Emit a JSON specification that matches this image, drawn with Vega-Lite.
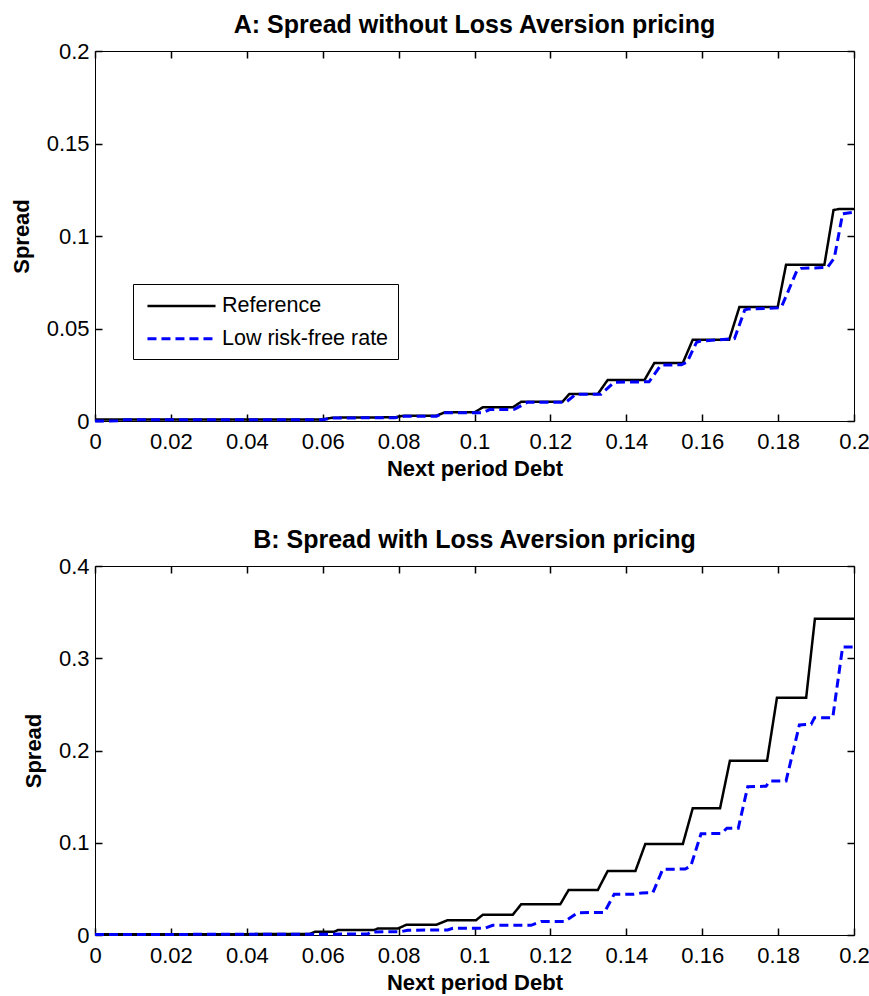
{
  "$schema": "https://vega.github.io/schema/vega-lite/v6.json",
  "background": "white",
  "padding": {"left": 10, "top": 13, "right": 0, "bottom": 0},
  "spacing": 48,
  "config": {
    "view": {"stroke": null},
    "font": "Liberation Sans",
    "axis": {
      "grid": false,
      "domainColor": "black",
      "domainWidth": 1,
      "tickColor": "black",
      "tickWidth": 1.5,
      "tickSize": 7,
      "labelColor": "black",
      "labelFont": "Liberation Sans",
      "labelFontSize": 22,
      "labelFlush": false,
      "labelOverlap": false,
      "labelBound": false,
      "titleColor": "black",
      "titleFont": "Liberation Sans",
      "titleFontSize": 22,
      "titleFontWeight": "bold"
    },
    "title": {"font": "Liberation Sans", "fontSize": 25, "fontWeight": "bold", "color": "black", "offset": 2, "anchor": "middle"},
    "legend": {
      "strokeColor": "black",
      "fillColor": "white",
      "padding": 9,
      "labelFont": "Liberation Sans",
      "labelFontSize": 21.5,
      "labelColor": "black",
      "labelLimit": 0,
      "symbolType": "M-3,0H3",
      "symbolSize": 515,
      "symbolStrokeWidth": 2.5,
      "symbolOffset": 26.5,
      "labelOffset": 27.5,
      "rowPadding": 8.8
    }
  },
  "datasets": {
    "a": [
      {"x": 0, "y": 0.0008, "series": "Reference"},
      {"x": 0.06, "y": 0.0008, "series": "Reference"},
      {"x": 0.0625, "y": 0.0018, "series": "Reference"},
      {"x": 0.079, "y": 0.002, "series": "Reference"},
      {"x": 0.0815, "y": 0.0029, "series": "Reference"},
      {"x": 0.09, "y": 0.0029, "series": "Reference"},
      {"x": 0.0922, "y": 0.0047, "series": "Reference"},
      {"x": 0.1, "y": 0.0047, "series": "Reference"},
      {"x": 0.1022, "y": 0.0074, "series": "Reference"},
      {"x": 0.1101, "y": 0.0074, "series": "Reference"},
      {"x": 0.1123, "y": 0.0104, "series": "Reference"},
      {"x": 0.1232, "y": 0.0104, "series": "Reference"},
      {"x": 0.125, "y": 0.0146, "series": "Reference"},
      {"x": 0.1325, "y": 0.0146, "series": "Reference"},
      {"x": 0.1351, "y": 0.0222, "series": "Reference"},
      {"x": 0.1448, "y": 0.0222, "series": "Reference"},
      {"x": 0.1474, "y": 0.0314, "series": "Reference"},
      {"x": 0.1549, "y": 0.0314, "series": "Reference"},
      {"x": 0.1575, "y": 0.0439, "series": "Reference"},
      {"x": 0.1671, "y": 0.0439, "series": "Reference"},
      {"x": 0.1698, "y": 0.0616, "series": "Reference"},
      {"x": 0.1799, "y": 0.0616, "series": "Reference"},
      {"x": 0.1821, "y": 0.0845, "series": "Reference"},
      {"x": 0.1922, "y": 0.0845, "series": "Reference"},
      {"x": 0.1946, "y": 0.114, "series": "Reference"},
      {"x": 0.196, "y": 0.1146, "series": "Reference"},
      {"x": 0.2, "y": 0.1146, "series": "Reference"},
      {"x": 0, "y": 0, "series": "Low risk-free rate"},
      {"x": 0.006, "y": 0.0001, "series": "Low risk-free rate"},
      {"x": 0.008, "y": 0.0007, "series": "Low risk-free rate"},
      {"x": 0.06, "y": 0.0007, "series": "Low risk-free rate"},
      {"x": 0.0625, "y": 0.0016, "series": "Low risk-free rate"},
      {"x": 0.079, "y": 0.0018, "series": "Low risk-free rate"},
      {"x": 0.0815, "y": 0.0026, "series": "Low risk-free rate"},
      {"x": 0.09, "y": 0.0026, "series": "Low risk-free rate"},
      {"x": 0.0922, "y": 0.0045, "series": "Low risk-free rate"},
      {"x": 0.1022, "y": 0.0045, "series": "Low risk-free rate"},
      {"x": 0.104, "y": 0.0062, "series": "Low risk-free rate"},
      {"x": 0.1105, "y": 0.0063, "series": "Low risk-free rate"},
      {"x": 0.114, "y": 0.0102, "series": "Low risk-free rate"},
      {"x": 0.1241, "y": 0.0102, "series": "Low risk-free rate"},
      {"x": 0.1267, "y": 0.0144, "series": "Low risk-free rate"},
      {"x": 0.1333, "y": 0.0144, "series": "Low risk-free rate"},
      {"x": 0.1368, "y": 0.021, "series": "Low risk-free rate"},
      {"x": 0.146, "y": 0.0212, "series": "Low risk-free rate"},
      {"x": 0.1491, "y": 0.0302, "series": "Low risk-free rate"},
      {"x": 0.1545, "y": 0.0304, "series": "Low risk-free rate"},
      {"x": 0.156, "y": 0.0318, "series": "Low risk-free rate"},
      {"x": 0.1585, "y": 0.0425, "series": "Low risk-free rate"},
      {"x": 0.1596, "y": 0.0432, "series": "Low risk-free rate"},
      {"x": 0.1685, "y": 0.0445, "series": "Low risk-free rate"},
      {"x": 0.1712, "y": 0.06, "series": "Low risk-free rate"},
      {"x": 0.172, "y": 0.0605, "series": "Low risk-free rate"},
      {"x": 0.1808, "y": 0.0612, "series": "Low risk-free rate"},
      {"x": 0.185, "y": 0.0815, "series": "Low risk-free rate"},
      {"x": 0.186, "y": 0.0825, "series": "Low risk-free rate"},
      {"x": 0.193, "y": 0.083, "series": "Low risk-free rate"},
      {"x": 0.1948, "y": 0.088, "series": "Low risk-free rate"},
      {"x": 0.197, "y": 0.112, "series": "Low risk-free rate"},
      {"x": 0.2, "y": 0.1128, "series": "Low risk-free rate"}
    ],
    "b": [
      {"x": 0, "y": 0.0008, "series": "Reference"},
      {"x": 0.0565, "y": 0.001, "series": "Reference"},
      {"x": 0.058, "y": 0.0036, "series": "Reference"},
      {"x": 0.0631, "y": 0.0036, "series": "Reference"},
      {"x": 0.064, "y": 0.0054, "series": "Reference"},
      {"x": 0.0736, "y": 0.0054, "series": "Reference"},
      {"x": 0.0745, "y": 0.007, "series": "Reference"},
      {"x": 0.0798, "y": 0.007, "series": "Reference"},
      {"x": 0.082, "y": 0.011, "series": "Reference"},
      {"x": 0.0899, "y": 0.011, "series": "Reference"},
      {"x": 0.0929, "y": 0.016, "series": "Reference"},
      {"x": 0.1004, "y": 0.016, "series": "Reference"},
      {"x": 0.1022, "y": 0.022, "series": "Reference"},
      {"x": 0.1101, "y": 0.022, "series": "Reference"},
      {"x": 0.1123, "y": 0.0333, "series": "Reference"},
      {"x": 0.1226, "y": 0.0333, "series": "Reference"},
      {"x": 0.1248, "y": 0.0488, "series": "Reference"},
      {"x": 0.1325, "y": 0.0488, "series": "Reference"},
      {"x": 0.1351, "y": 0.0694, "series": "Reference"},
      {"x": 0.1424, "y": 0.0694, "series": "Reference"},
      {"x": 0.145, "y": 0.0986, "series": "Reference"},
      {"x": 0.1549, "y": 0.0986, "series": "Reference"},
      {"x": 0.1575, "y": 0.1373, "series": "Reference"},
      {"x": 0.1647, "y": 0.1373, "series": "Reference"},
      {"x": 0.1673, "y": 0.189, "series": "Reference"},
      {"x": 0.1771, "y": 0.189, "series": "Reference"},
      {"x": 0.1797, "y": 0.2573, "series": "Reference"},
      {"x": 0.1874, "y": 0.2573, "series": "Reference"},
      {"x": 0.1897, "y": 0.3429, "series": "Reference"},
      {"x": 0.2, "y": 0.3429, "series": "Reference"},
      {"x": 0, "y": 0.0005, "series": "Low risk-free rate"},
      {"x": 0.0719, "y": 0.001, "series": "Low risk-free rate"},
      {"x": 0.0727, "y": 0.0033, "series": "Low risk-free rate"},
      {"x": 0.0806, "y": 0.0036, "series": "Low risk-free rate"},
      {"x": 0.0824, "y": 0.0052, "series": "Low risk-free rate"},
      {"x": 0.0929, "y": 0.0054, "series": "Low risk-free rate"},
      {"x": 0.0943, "y": 0.0072, "series": "Low risk-free rate"},
      {"x": 0.1026, "y": 0.0072, "series": "Low risk-free rate"},
      {"x": 0.1048, "y": 0.0105, "series": "Low risk-free rate"},
      {"x": 0.1149, "y": 0.0105, "series": "Low risk-free rate"},
      {"x": 0.1175, "y": 0.0145, "series": "Low risk-free rate"},
      {"x": 0.1237, "y": 0.0145, "series": "Low risk-free rate"},
      {"x": 0.1272, "y": 0.0242, "series": "Low risk-free rate"},
      {"x": 0.1342, "y": 0.0245, "series": "Low risk-free rate"},
      {"x": 0.1368, "y": 0.0441, "series": "Low risk-free rate"},
      {"x": 0.142, "y": 0.0443, "series": "Low risk-free rate"},
      {"x": 0.144, "y": 0.0455, "series": "Low risk-free rate"},
      {"x": 0.147, "y": 0.0459, "series": "Low risk-free rate"},
      {"x": 0.1496, "y": 0.0712, "series": "Low risk-free rate"},
      {"x": 0.1555, "y": 0.0715, "series": "Low risk-free rate"},
      {"x": 0.157, "y": 0.0748, "series": "Low risk-free rate"},
      {"x": 0.1597, "y": 0.1098, "series": "Low risk-free rate"},
      {"x": 0.165, "y": 0.11, "series": "Low risk-free rate"},
      {"x": 0.1665, "y": 0.1157, "series": "Low risk-free rate"},
      {"x": 0.1695, "y": 0.1157, "series": "Low risk-free rate"},
      {"x": 0.172, "y": 0.1608, "series": "Low risk-free rate"},
      {"x": 0.1768, "y": 0.1612, "series": "Low risk-free rate"},
      {"x": 0.1778, "y": 0.167, "series": "Low risk-free rate"},
      {"x": 0.1821, "y": 0.167, "series": "Low risk-free rate"},
      {"x": 0.1856, "y": 0.2276, "series": "Low risk-free rate"},
      {"x": 0.1887, "y": 0.2285, "series": "Low risk-free rate"},
      {"x": 0.1896, "y": 0.2356, "series": "Low risk-free rate"},
      {"x": 0.1944, "y": 0.2356, "series": "Low risk-free rate"},
      {"x": 0.197, "y": 0.3122, "series": "Low risk-free rate"},
      {"x": 0.2, "y": 0.3122, "series": "Low risk-free rate"}
    ]
  },
  "resolve": {"scale": {"color": "independent", "strokeDash": "independent", "strokeWidth": "independent"}},
  "vconcat": [
    {
      "width": 759,
      "height": 370,
      "title": {"text": "A: Spread without Loss Aversion pricing"},
      "data": {"name": "a"},
      "resolve": {"axis": {"x": "independent", "y": "independent"}},
      "layer": [
        {
          "mark": {"type": "line", "strokeCap": "butt", "strokeJoin": "miter"},
          "encoding": {
            "x": {"field": "x", "type": "quantitative", "scale": {"domain": [0, 0.2], "nice": false, "zero": false},
                  "axis": {"orient": "bottom", "values": [0, 0.02, 0.04, 0.06, 0.08, 0.1, 0.12, 0.14, 0.16, 0.18, 0.2], "format": "~g", "ticks": false, "labelPadding": 10.5, "title": "Next period Debt", "titlePadding": 6}},
            "y": {"field": "y", "type": "quantitative", "scale": {"domain": [0, 0.2], "nice": false},
                  "axis": {"orient": "left", "values": [0, 0.05, 0.1, 0.15, 0.2], "format": "~g", "ticks": false, "labelPadding": 6, "title": "Spread", "titlePadding": 13}},
            "color": {"field": "series", "type": "nominal", "scale": {"domain": ["Reference", "Low risk-free rate"], "range": ["#000000", "#0000ff"]},
                      "legend": {"title": null, "orient": "none", "legendX": 38, "legendY": 233, "labelExpr": "datum.label + '\u00a0'"}},
            "strokeDash": {"field": "series", "type": "nominal", "scale": {"domain": ["Reference", "Low risk-free rate"], "range": [[1, 0], [9, 5]]},
                      "legend": {"title": null, "orient": "none", "legendX": 38, "legendY": 233, "labelExpr": "datum.label + '\u00a0'"}},
            "strokeWidth": {"field": "series", "type": "nominal", "scale": {"domain": ["Reference", "Low risk-free rate"], "range": [2.5, 3]}, "legend": null}
          }
        },
        {
          "mark": {"type": "line", "strokeOpacity": 0},
          "encoding": {
            "x": {"field": "x", "type": "quantitative", "axis": {"orient": "top", "offset": -370, "domain": false, "ticks": true, "values": [0, 0.02, 0.04, 0.06, 0.08, 0.1, 0.12, 0.14, 0.16, 0.18, 0.2], "labels": false, "title": null}},
            "y": {"field": "y", "type": "quantitative", "axis": {"orient": "right", "offset": -759, "domain": false, "ticks": true, "values": [0, 0.05, 0.1, 0.15, 0.2], "labels": false, "title": null}},
            "detail": {"field": "series"}
          }
        },
        {
          "mark": {"type": "line", "strokeOpacity": 0},
          "encoding": {
            "x": {"field": "x", "type": "quantitative", "axis": {"orient": "bottom", "offset": -370, "ticks": true, "values": [0, 0.02, 0.04, 0.06, 0.08, 0.1, 0.12, 0.14, 0.16, 0.18, 0.2], "labels": false, "title": null}},
            "y": {"field": "y", "type": "quantitative", "axis": {"orient": "left", "offset": -759, "ticks": true, "values": [0, 0.05, 0.1, 0.15, 0.2], "labels": false, "title": null}},
            "detail": {"field": "series"}
          }
        }
      ]
    },
    {
      "width": 759,
      "height": 369,
      "title": {"text": "B: Spread with Loss Aversion pricing"},
      "data": {"name": "b"},
      "resolve": {"axis": {"x": "independent", "y": "independent"}},
      "layer": [
        {
          "mark": {"type": "line", "strokeCap": "butt", "strokeJoin": "miter"},
          "encoding": {
            "x": {"field": "x", "type": "quantitative", "scale": {"domain": [0, 0.2], "nice": false, "zero": false},
                  "axis": {"orient": "bottom", "values": [0, 0.02, 0.04, 0.06, 0.08, 0.1, 0.12, 0.14, 0.16, 0.18, 0.2], "format": "~g", "ticks": false, "labelPadding": 10.5, "title": "Next period Debt", "titlePadding": 6}},
            "y": {"field": "y", "type": "quantitative", "scale": {"domain": [0, 0.4], "nice": false},
                  "axis": {"orient": "left", "values": [0, 0.1, 0.2, 0.3, 0.4], "format": "~g", "ticks": false, "labelPadding": 6, "title": "Spread", "titlePadding": 13}},
            "color": {"field": "series", "type": "nominal", "scale": {"domain": ["Reference", "Low risk-free rate"], "range": ["#000000", "#0000ff"]}, "legend": null},
            "strokeDash": {"field": "series", "type": "nominal", "scale": {"domain": ["Reference", "Low risk-free rate"], "range": [[1, 0], [9, 5]]}, "legend": null},
            "strokeWidth": {"field": "series", "type": "nominal", "scale": {"domain": ["Reference", "Low risk-free rate"], "range": [2.5, 3]}, "legend": null}
          }
        },
        {
          "mark": {"type": "line", "strokeOpacity": 0},
          "encoding": {
            "x": {"field": "x", "type": "quantitative", "axis": {"orient": "top", "offset": -369, "domain": false, "ticks": true, "values": [0, 0.02, 0.04, 0.06, 0.08, 0.1, 0.12, 0.14, 0.16, 0.18, 0.2], "labels": false, "title": null}},
            "y": {"field": "y", "type": "quantitative", "axis": {"orient": "right", "offset": -759, "domain": false, "ticks": true, "values": [0, 0.1, 0.2, 0.3, 0.4], "labels": false, "title": null}},
            "detail": {"field": "series"}
          }
        },
        {
          "mark": {"type": "line", "strokeOpacity": 0},
          "encoding": {
            "x": {"field": "x", "type": "quantitative", "axis": {"orient": "bottom", "offset": -369, "ticks": true, "values": [0, 0.02, 0.04, 0.06, 0.08, 0.1, 0.12, 0.14, 0.16, 0.18, 0.2], "labels": false, "title": null}},
            "y": {"field": "y", "type": "quantitative", "axis": {"orient": "left", "offset": -759, "ticks": true, "values": [0, 0.1, 0.2, 0.3, 0.4], "labels": false, "title": null}},
            "detail": {"field": "series"}
          }
        }
      ]
    }
  ]
}
